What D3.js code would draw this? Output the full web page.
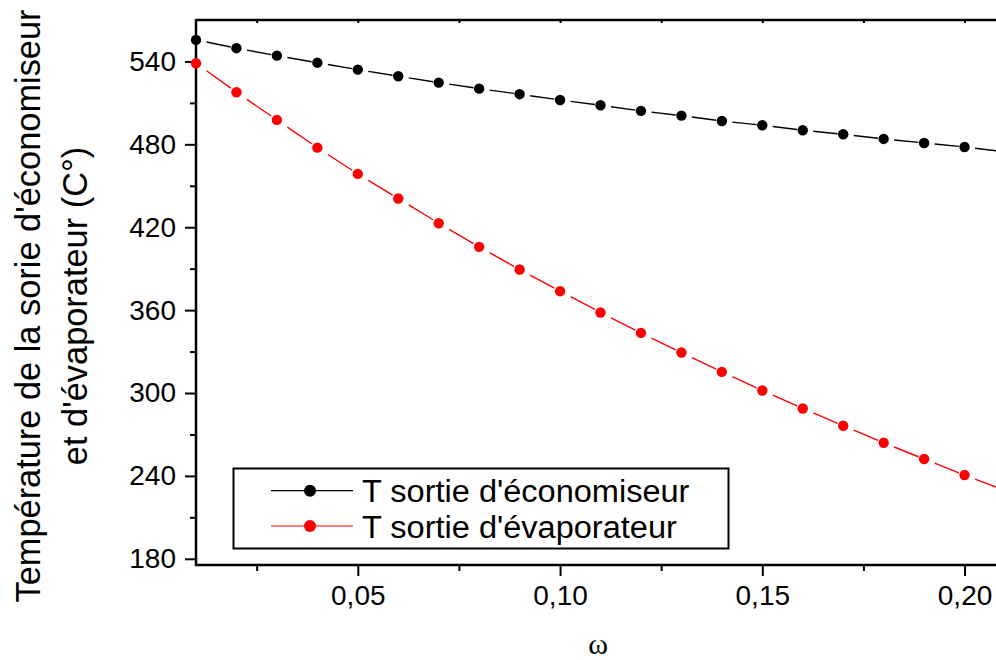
<!DOCTYPE html>
<html>
<head>
<meta charset="utf-8">
<script src="https://cdn.jsdelivr.net/npm/d3@7"></script>
<style>
  html, body { margin: 0; padding: 0; background: #fff; }
  svg { display: block; font-family: "Liberation Sans", Arial, sans-serif; }
</style>
</head>
<body>
<svg id="chart" width="996" height="660"></svg>
<script>
// ω values (fraction) and outlet temperatures (°C)
const omega = [0.01, 0.02, 0.03, 0.04, 0.05, 0.06, 0.07, 0.08, 0.09, 0.10,
               0.11, 0.12, 0.13, 0.14, 0.15, 0.16, 0.17, 0.18, 0.19, 0.20, 0.21];
const tEconomiseur = [555.6, 549.6, 544.2, 539.1, 534.1, 529.3, 524.7, 520.3, 516.3, 512.1,
                      508.3, 504.2, 500.8, 496.9, 493.8, 490.2, 487.3, 483.9, 481.0, 478.1, 474.5];
const tEvaporateur = [538.7, 517.7, 497.7, 477.6, 458.6, 440.8, 422.9, 405.8, 389.4, 373.7,
                      358.3, 343.5, 329.3, 315.3, 301.8, 288.8, 276.3, 264.0, 252.2, 240.6, 229.5];
const seriesNames = ["T sortie d'économiseur", "T sortie d'évaporateur"];
const seriesColors = ["#000000", "#ff0000"];
const xTickValues = [0.05, 0.10, 0.15, 0.20];
const xMinorTicks = [0.025, 0.075, 0.125, 0.175];
const yTickValues = [180, 240, 300, 360, 420, 480, 540];
const yMinorTicks = [210, 270, 330, 390, 450, 510];
const xTitle = "ω";
const yTitleLines = ["Température de la sorie d'économiseur", "et d'évaporateur (C°)"];

const svg = d3.select("#chart");
const pLeft = 196, pTop = 20, pBottom = 565, pRight = 1005;

const x = d3.scaleLinear().domain([0.01, 0.21]).range([pLeft, pRight]);
const y = d3.scaleLinear().domain([175.5, 570]).range([pBottom, pTop]);

const fmtX = v => d3.format(".2f")(v).replace(".", ",");

// clip region for data marks
svg.append("defs").append("clipPath").attr("id", "plotClip")
  .append("rect").attr("x", pLeft - 8).attr("y", pTop).attr("width", pRight - pLeft + 16).attr("height", pBottom - pTop);

// ---- Axes ----
const axisFont = "28px";

// bottom axis, major
const gx = svg.append("g").attr("transform", `translate(0,${pBottom})`)
  .call(d3.axisBottom(x).tickValues(xTickValues).tickFormat(fmtX).tickSize(11).tickSizeOuter(0).tickPadding(9));
// bottom axis, minor
svg.append("g").attr("transform", `translate(0,${pBottom})`)
  .call(d3.axisBottom(x).tickValues(xMinorTicks).tickFormat("").tickSize(6).tickSizeOuter(0))
  .call(g => g.select(".domain").remove());

// top axis (small inward ticks)
svg.append("g").attr("transform", `translate(0,${pTop})`)
  .call(d3.axisBottom(x).tickValues(xTickValues.concat(xMinorTicks)).tickFormat("").tickSize(3).tickSizeOuter(0))
  .call(g => g.select(".domain").remove());
svg.append("line").attr("x1", pLeft).attr("x2", 996).attr("y1", pTop).attr("y2", pTop)
  .attr("stroke", "#000").attr("stroke-width", 2.5);

// left axis, major
const gy = svg.append("g").attr("transform", `translate(${pLeft},0)`)
  .call(d3.axisLeft(y).tickValues(yTickValues).tickSize(11).tickSizeOuter(0).tickPadding(9));
// left axis, minor
svg.append("g").attr("transform", `translate(${pLeft},0)`)
  .call(d3.axisLeft(y).tickValues(yMinorTicks).tickFormat("").tickSize(6).tickSizeOuter(0))
  .call(g => g.select(".domain").remove());

svg.selectAll(".tick line").attr("stroke", "#000").attr("stroke-width", 2);
gx.select(".domain").attr("stroke-width", 2.5);
gy.select(".domain").attr("stroke-width", 2.5);
// extend axis lines to meet at the corners
gx.select(".domain").attr("d", `M${pLeft - 1},0H996`);
gy.select(".domain").attr("d", `M0,${pTop - 1}V${pBottom + 1}`);

gx.selectAll(".tick text").attr("font-size", axisFont).attr("fill", "#000")
  .attr("font-family", "Liberation Sans, Arial, sans-serif");
gy.selectAll(".tick text").attr("font-size", axisFont).attr("fill", "#000")
  .attr("font-family", "Liberation Sans, Arial, sans-serif");

// axis titles
svg.append("text").attr("x", 598).attr("y", 654).attr("text-anchor", "middle")
  .attr("font-family", "Liberation Serif, Times New Roman, serif").attr("font-size", "30px")
  .text(xTitle);

const yt = svg.append("text").attr("transform", "translate(0,306) rotate(-90) scale(0.955,1)")
  .attr("text-anchor", "middle").attr("font-size", "36px").attr("fill", "#000");
yt.append("tspan").attr("x", 0).attr("y", 40).text(yTitleLines[0]);
yt.append("tspan").attr("x", 0).attr("y", 87).text(yTitleLines[1]);

// ---- Data ----
const plot = svg.append("g").attr("clip-path", "url(#plotClip)");
const series = [tEconomiseur, tEvaporateur];

series.forEach((vals, si) => {
  const pts = omega.map((w, i) => [x(w), y(vals[i])]);
  const segs = d3.pairs(pts);
  // dashed line: one dash per interval between markers
  plot.append("g").selectAll("path").data(segs).join("path")
    .attr("d", d => d3.line()(d))
    .attr("pathLength", 100)
    .attr("stroke-dasharray", "0,26,60,14")
    .attr("fill", "none")
    .attr("stroke", seriesColors[si])
    .attr("stroke-width", 1.4);
  plot.append("g").selectAll("circle").data(pts).join("circle")
    .attr("cx", d => d[0]).attr("cy", d => d[1]).attr("r", 5.2)
    .attr("fill", seriesColors[si]);
});

// ---- Legend ----
const lg = svg.append("g");
lg.append("rect").attr("x", 233.5).attr("y", 468.5).attr("width", 495).attr("height", 80)
  .attr("fill", "#fff").attr("stroke", "#000").attr("stroke-width", 2);
const rowY = [490.7, 526];
seriesNames.forEach((name, i) => {
  lg.append("line").attr("x1", 271).attr("x2", 353).attr("y1", rowY[i]).attr("y2", rowY[i])
    .attr("stroke", seriesColors[i]).attr("stroke-width", 1.2);
  lg.append("circle").attr("cx", 310).attr("cy", rowY[i]).attr("r", 6).attr("fill", seriesColors[i]);
  lg.append("text").attr("transform", `translate(362,${rowY[i] + 11.5}) scale(1.05,1)`)
    .attr("font-size", "31px").attr("fill", "#000").text(name);
});
</script>
</body>
</html>
